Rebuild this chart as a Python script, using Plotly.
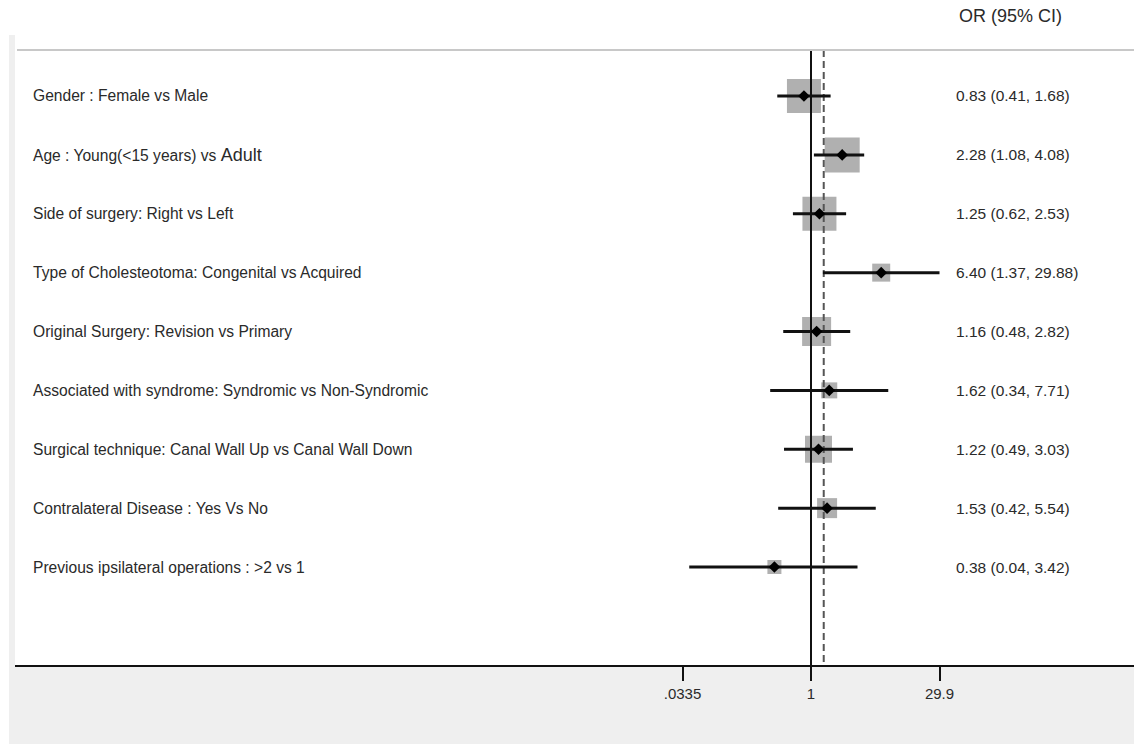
import plotly.graph_objects as go

# ---------------- data ----------------
labels = [
    "Gender : Female vs Male",
    "Age : Young(<15 years) vs <span style='font-size:18px'>Adult</span>",
    "Side of surgery: Right vs Left",
    "Type of Cholesteotoma: Congenital vs Acquired",
    "Original Surgery: Revision vs Primary",
    "Associated with syndrome: Syndromic vs Non-Syndromic",
    "Surgical technique: Canal Wall Up vs Canal Wall Down",
    "Contralateral Disease : Yes Vs No",
    "Previous ipsilateral operations : >2 vs 1",
]
or_est = [0.83, 2.28, 1.25, 6.40, 1.16, 1.62, 1.22, 1.53, 0.38]
ci_low = [0.41, 1.08, 0.62, 1.37, 0.48, 0.34, 0.49, 0.42, 0.04]
ci_high = [1.68, 4.08, 2.53, 29.88, 2.82, 7.71, 3.03, 5.54, 3.42]
box_px = [34, 35, 34, 18, 29, 16, 27, 20, 14]   # weight boxes (pixel size)
pooled = 1.40
null_value = 1
tick_vals = [0.0335, 1, 29.9]
tick_text = [".0335", "1", "29.9"]
header = "OR (95% CI)"

# ---------------- geometry ----------------
W, H = 1134, 744
plot_left, plot_top, plot_bottom = 15, 35, 665
px_per_dec = 87.1
x_one = 811
r0 = (plot_left - x_one) / px_per_dec
r1 = (W - x_one) / px_per_dec
row_top_px, row_step = 96, 58.875
plot_h = plot_bottom - plot_top
ya = -(row_top_px - plot_top) / row_step
yb = ya + plot_h / row_step
line_top = ya + (50 - plot_top) / row_step

rows = list(range(len(labels)))
FONT = "Liberation Sans, Arial, sans-serif"
TXT = "#2a2a2a"

fig = go.Figure()

# weight boxes
fig.add_trace(go.Scatter(
    x=or_est, y=rows, mode="markers",
    marker=dict(symbol="square", size=box_px, color="#b0b0b0", opacity=1,
                line=dict(width=0)),
    hoverinfo="skip", showlegend=False))

# vertical reference lines
fig.add_trace(go.Scatter(
    x=[null_value, null_value], y=[line_top, yb], mode="lines",
    line=dict(color="#111111", width=2), hoverinfo="skip", showlegend=False))
fig.add_trace(go.Scatter(
    x=[pooled, pooled], y=[line_top, yb], mode="lines",
    line=dict(color="#555555", width=2, dash="7px,4px"), hoverinfo="skip", showlegend=False))

# CI lines
cx, cy = [], []
for lo, hi, r in zip(ci_low, ci_high, rows):
    cx += [lo, hi, None]
    cy += [r, r, None]
fig.add_trace(go.Scatter(
    x=cx, y=cy, mode="lines", line=dict(color="#111111", width=3),
    hoverinfo="skip", showlegend=False))

# point estimates
fig.add_trace(go.Scatter(
    x=or_est, y=rows, mode="markers",
    marker=dict(symbol="diamond", size=9, color="#000000", line=dict(width=0)),
    hoverinfo="skip", showlegend=False))

annotations = []
for lab, r in zip(labels, rows):
    annotations.append(dict(
        x=31 / W, xref="paper", y=r, yref="y", text=lab, showarrow=False,
        xanchor="left", yanchor="middle",
        font=dict(family=FONT, size=15.6, color=TXT)))
for e, lo, hi, r in zip(or_est, ci_low, ci_high, rows):
    annotations.append(dict(
        x=954 / W, xref="paper", y=r, yref="y",
        text=f"{e:.2f} ({lo:.2f}, {hi:.2f})", showarrow=False,
        xanchor="left", yanchor="middle",
        font=dict(family=FONT, size=15.5, color=TXT)))
annotations.append(dict(
    x=957 / W, xref="paper", y=1 - 16 / H, yref="paper", text=header,
    showarrow=False, xanchor="left", yanchor="middle",
    font=dict(family=FONT, size=18, color=TXT)))

shapes = [
    # left gray strip
    dict(type="rect", xref="paper", yref="paper", x0=9 / W, x1=plot_left / W,
         y0=0, y1=1 - plot_top / H, fillcolor="#efefef", line=dict(width=0), layer="below"),
    # bottom gray region
    dict(type="rect", xref="paper", yref="paper", x0=9 / W, x1=1,
         y0=0, y1=1 - plot_bottom / H, fillcolor="#efefef", line=dict(width=0), layer="below"),
    # top gray rule
    dict(type="line", xref="paper", yref="paper", x0=17 / W, x1=1,
         y0=1 - 50 / H, y1=1 - 50 / H, line=dict(color="#c8c8c8", width=2)),
]

fig.update_layout(
    width=W, height=H,
    margin=dict(l=0, r=0, t=0, b=0),
    paper_bgcolor="white", plot_bgcolor="white",
    showlegend=False,
    annotations=annotations, shapes=shapes,
    xaxis=dict(
        type="log", range=[r0, r1], domain=[plot_left / W, 1],
        tickvals=tick_vals, ticktext=tick_text,
        ticks="outside", ticklen=14, tickwidth=2, tickcolor="#111111",
        showline=True, linecolor="#111111", linewidth=2,
        showgrid=False, zeroline=False,
        tickfont=dict(family=FONT, size=15, color=TXT),
        fixedrange=True),
    yaxis=dict(
        range=[yb, ya], domain=[1 - plot_bottom / H, 1 - plot_top / H],
        showticklabels=False, showgrid=False, zeroline=False, showline=False,
        ticks="", fixedrange=True),
)

fig.write_html(
    "out.html",
    config={"displayModeBar": False},
    post_script="document.body.style.margin='0';document.body.style.overflow='hidden';",
)
